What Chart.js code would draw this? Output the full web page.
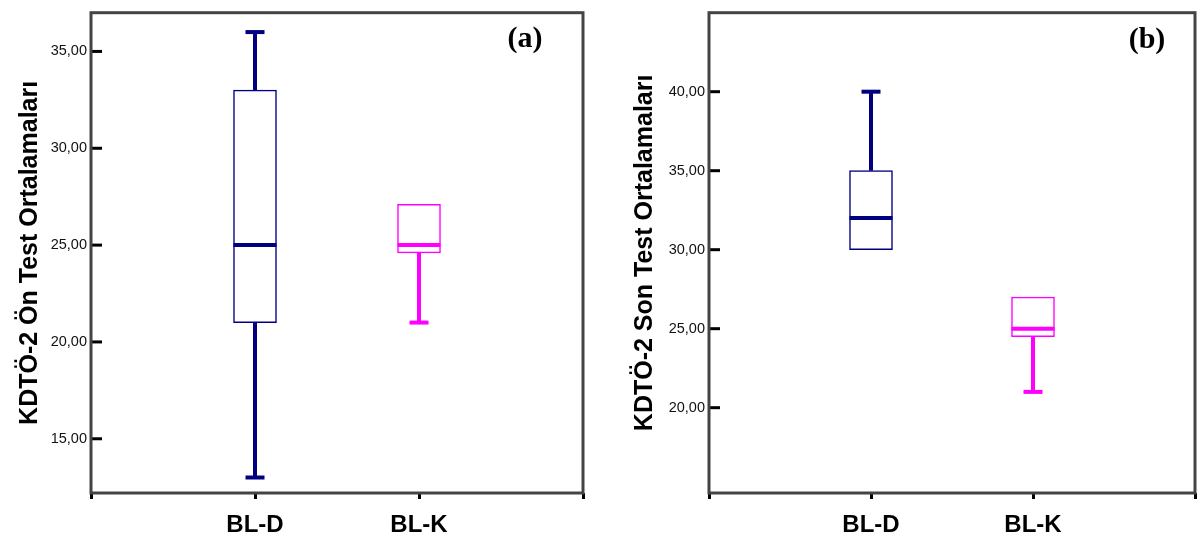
<!DOCTYPE html>
<html lang="tr">
<head>
<meta charset="UTF-8">
<title>KDTÖ-2 Kutu Grafikleri</title>
<script src="https://cdn.jsdelivr.net/npm/chart.js@4.4.0/dist/chart.umd.min.js"></script>
<style>
  body { margin: 0; background: #fff; width: 1197px; height: 537px; overflow: hidden; position: relative; }
  canvas { position: absolute; top: 0; }
  #chartA { left: 0; }
  #chartB { left: 600px; }
</style>
</head>
<body>
<canvas id="chartA" width="598" height="537"></canvas>
<canvas id="chartB" width="597" height="537"></canvas>
<script>
const categories = ['BL-D', 'BL-K'];
const boxColors = ['#000080', '#ff00ff'];

// (a) Ön test
const preMin = [13, 21];
const preQ1 = [21, 24.6];
const preMedian = [25, 25];
const preQ3 = [33, 27.1];
const preMax = [36, 27.1];
const preTicks = [15, 20, 25, 30, 35];

// (b) Son test
const postMin = [30, 21];
const postQ1 = [30, 24.5];
const postMedian = [32, 25];
const postQ3 = [35, 27];
const postMax = [40, 27];
const postTicks = [20, 25, 30, 35, 40];

const FONT = 'Arial, "Liberation Sans", sans-serif';
const fmt = v => Number(v).toFixed(2).replace('.', ',');

// whiskers, medians, frame, inward ticks, panel tag
const boxPlot = {
  id: 'boxPlot',
  afterDatasetsDraw(chart, args, o) {
    const { ctx, scales: { x, y } } = chart;
    ctx.save();
    ctx.lineCap = 'butt';
    ctx.lineWidth = 4;
    const line = (x1, y1, x2, y2) => { ctx.beginPath(); ctx.moveTo(x1, y1); ctx.lineTo(x2, y2); ctx.stroke(); };
    o.min.forEach((mn, i) => {
      const cx = x.getPixelForValue(i + 1);
      ctx.strokeStyle = boxColors[i];
      if (o.max[i] > o.q3[i]) {
        const yt = y.getPixelForValue(o.max[i]);
        line(cx, y.getPixelForValue(o.q3[i]), cx, yt);
        line(cx - 9.5, yt, cx + 9.5, yt);
      }
      if (mn < o.q1[i]) {
        const yb = y.getPixelForValue(mn);
        line(cx, y.getPixelForValue(o.q1[i]), cx, yb);
        line(cx - 9.5, yb, cx + 9.5, yb);
      }
      const ym = y.getPixelForValue(o.median[i]);
      line(cx - 21.5, ym, cx + 21.5, ym);
    });
    ctx.restore();
  },
  afterDraw(chart, args, o) {
    const { ctx, chartArea: a, scales: { y } } = chart;
    ctx.save();
    ctx.strokeStyle = '#000';
    ctx.lineWidth = 3;
    y.ticks.forEach(t => {
      const py = y.getPixelForValue(t.value);
      ctx.beginPath(); ctx.moveTo(a.left, py); ctx.lineTo(a.left + 11, py); ctx.stroke();
    });
    ctx.strokeStyle = '#444';
    ctx.strokeRect(a.left, a.top, a.right - a.left, a.bottom - a.top);
    ctx.fillStyle = '#000';
    ctx.font = 'bold 30px "Liberation Serif", "Times New Roman", serif';
    ctx.textAlign = 'center';
    ctx.textBaseline = 'middle';
    ctx.fillText(o.tag, o.tagX, o.tagY);
    ctx.restore();
  }
};

function makeChart(id, d) {
  const labels = ['', ...categories, ''];
  new Chart(document.getElementById(id), {
    type: 'bar',
    data: {
      labels,
      datasets: [{
        data: [null, ...categories.map((c, i) => [d.q1[i], d.q3[i]]), null],
        backgroundColor: '#ffffff',
        borderColor: ['#000', ...boxColors, '#000'],
        borderWidth: 1.5,
        borderSkipped: false,
        barThickness: 43
      }]
    },
    options: {
      responsive: false,
      animation: false,
      devicePixelRatio: 1,
      layout: { padding: d.padding },
      plugins: {
        legend: { display: false },
        tooltip: { enabled: false },
        boxPlot: { min: d.min, q1: d.q1, median: d.median, q3: d.q3, max: d.max, tag: d.tag, tagX: d.tagX, tagY: d.tagY }
      },
      scales: {
        x: {
          offset: false,
          grid: { offset: false, drawOnChartArea: false, drawTicks: true, tickLength: 6, lineWidth: 3, color: '#000' },
          border: { display: false },
          ticks: { color: '#000', padding: 12, font: { family: FONT, size: 24, weight: 'bold' } },
          afterFit: s => { s.height = 44; s.paddingLeft = 0; s.paddingRight = 0; }
        },
        y: {
          min: d.yMin,
          max: d.yMax,
          grid: { display: false, drawTicks: false },
          border: { display: false },
          afterBuildTicks: s => { s.ticks = d.ticks.map(v => ({ value: v })); },
          ticks: { color: '#111', padding: 4, font: { family: FONT, size: 14.5 }, callback: v => fmt(v) },
          title: { display: true, text: d.title, color: '#000', padding: { top: d.titlePad, bottom: 0 }, font: { family: FONT, size: 25, weight: 'bold' } },
          afterFit: s => { s.width = d.axisWidth; }
        }
      }
    },
    plugins: [boxPlot]
  });
}

makeChart('chartA', {
  min: preMin, q1: preQ1, median: preMedian, q3: preQ3, max: preMax, ticks: preTicks,
  yMin: 12.2, yMax: 37.0, title: 'KDTÖ-2 Ön Test Ortalamaları', titlePad: 15, axisWidth: 91,
  padding: { top: 8, right: 15, left: 0, bottom: 0 }, tag: '(a)', tagX: 525, tagY: 39
});

makeChart('chartB', {
  min: postMin, q1: postQ1, median: postMedian, q3: postQ3, max: postMax, ticks: postTicks,
  yMin: 14.6, yMax: 45.0, title: 'KDTÖ-2 Son Test Ortalamaları', titlePad: 30, axisWidth: 109,
  padding: { top: 3, right: 2, left: 0, bottom: 0 }, tag: '(b)', tagX: 547, tagY: 40
});
</script>
</body>
</html>
